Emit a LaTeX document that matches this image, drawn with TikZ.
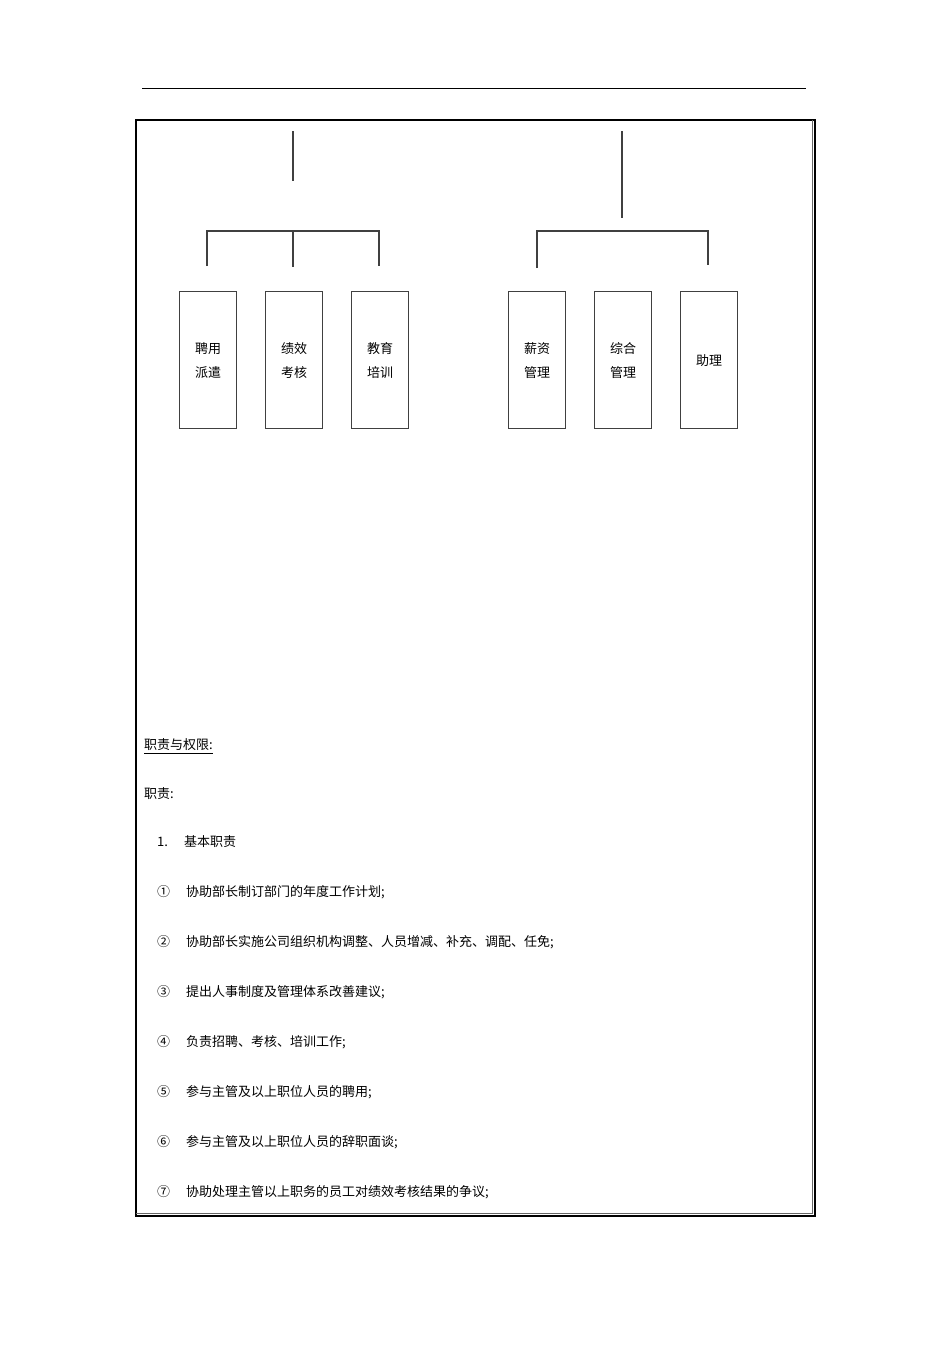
\documentclass[tikz,border=0pt]{standalone}
\usepackage{fontspec}
\newfontfamily\cjk{Noto Sans CJK SC}
\begin{document}
\begin{tikzpicture}[x=1pt,y=-1pt,
  ln/.style={draw=black!75,line width=1.2pt},
  bx/.style={draw=black!75,line width=1.2pt,minimum width=57pt,minimum height=137pt,anchor=north west,inner sep=0pt},
  tx/.style={font=\cjk\fontsize{13}{24}\selectfont,anchor=west,inner sep=0pt}]
\useasboundingbox (0,0) rectangle (950,1345);
\draw[line width=0.9pt] (142,88) -- (806,88);
% frame
\draw[line width=1.8pt] (136,1216) -- (136,120) -- (815,120) -- (815,1216) -- cycle;
\draw[line width=0.8pt,black!60] (136,1213) -- (812,1213) -- (812,120);
% left tree
\coordinate (lt) at (293,131); \coordinate (lb) at (293,181);
\draw[ln] (lt) -- (lb);
\draw[ln] (207,266) -- (207,231) -- (379,231) -- (379,266);
\draw[ln] (293,231) -- (293,267);
\coordinate (rt) at (622,131); \coordinate (rb) at (622,218);
\draw[ln] (rt) -- (rb);
\draw[ln] (537,268) -- (537,231) -- (708,231) -- (708,265);
\node[bx,align=center,font=\cjk\fontsize{13}{24}\selectfont] (b1) at (179,291) {聘用\\派遣};
\node[bx,align=center,font=\cjk\fontsize{13}{24}\selectfont] (b2) at (265,291) {绩效\\考核};
\node[bx,align=center,font=\cjk\fontsize{13}{24}\selectfont] (b3) at (351,291) {教育\\培训};
\node[bx,align=center,font=\cjk\fontsize{13}{24}\selectfont] (b4) at (508,291) {薪资\\管理};
\node[bx,align=center,font=\cjk\fontsize{13}{24}\selectfont] (b5) at (594,291) {综合\\管理};
\node[bx,align=center,font=\cjk\fontsize{13}{24}\selectfont] (b6) at (680,291) {助理};
% texts
\node[tx] (t0) at (144,745) {职责与权限:};
\draw[line width=0.7pt] (144,753) -- (t0.east |- 0,753);
\node[tx] (t1) at (144,794) {职责:};
\node[tx] (t2) at (157,842) {1.\hspace{16pt}基本职责};
\foreach \n/\y/\s in {①/892/协助部长制订部门的年度工作计划;,
 ②/942/协助部长实施公司组织机构调整、人员增减、补充、调配、任免;,
 ③/992/提出人事制度及管理体系改善建议;,
 ④/1042/负责招聘、考核、培训工作;,
 ⑤/1092/参与主管及以上职位人员的聘用;,
 ⑥/1142/参与主管及以上职位人员的辞职面谈;,
 ⑦/1192/协助处理主管以上职务的员工对绩效考核结果的争议;}{
  \node[tx] (n\y) at (157,\y) {\n};
  \node[tx] (s\y) at (186,\y) {\s};
}
\end{tikzpicture}
\end{document}
